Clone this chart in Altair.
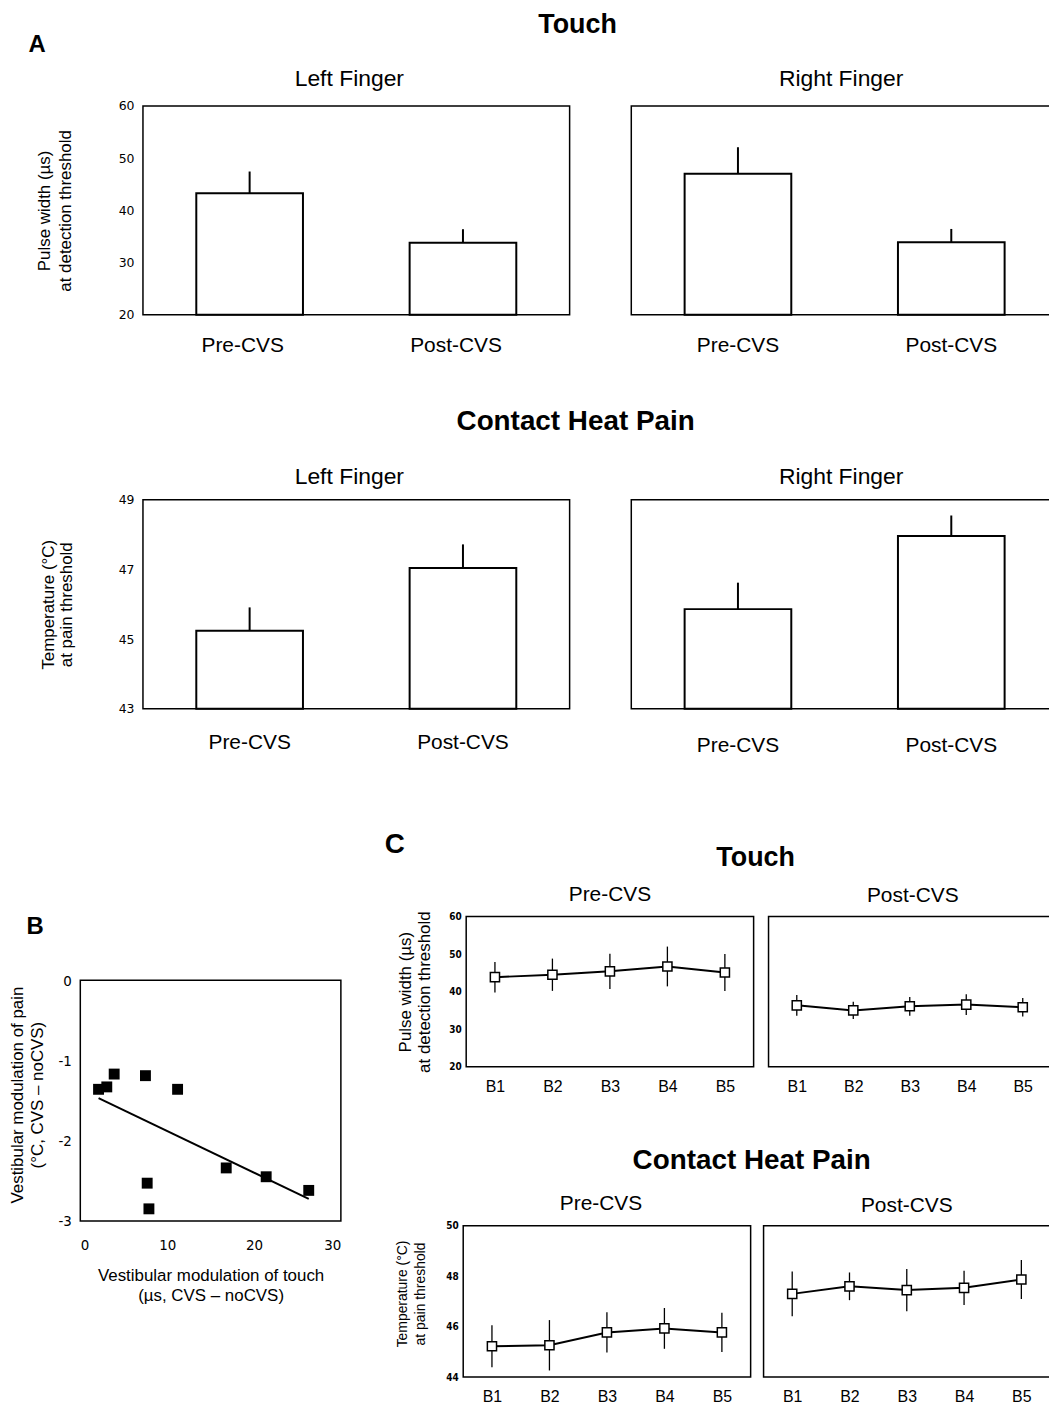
import altair as alt
import pandas as pd

FONT = "Liberation Sans, Arial, Helvetica, sans-serif"
NARROW = "Liberation Sans Narrow, DejaVu Sans Condensed, Arial Narrow, sans-serif"
TICKFONT = "DejaVu Sans, Verdana, sans-serif"

# ---------------- data ----------------
conditions = ["Pre-CVS", "Post-CVS"]
touch_left_mean = [43.3, 33.8]
touch_left_err = [4.15, 2.6]
touch_right_mean = [47.0, 33.9]
touch_right_err = [5.1, 2.55]
heat_left_mean = [45.24, 47.04]
heat_left_err = [0.67, 0.68]
heat_right_mean = [45.86, 47.96]
heat_right_err = [0.76, 0.59]

mod_touch = [2.1, 3.05, 3.9, 7.5, 11.2, 7.7, 7.9, 16.8, 21.4, 26.3]
mod_pain = [-1.36, -1.33, -1.17, -1.19, -1.36, -2.53, -2.85, -2.34, -2.45, -2.62]

blocks = ["B1", "B2", "B3", "B4", "B5"]
touch_pre_mean = [43.85, 44.5, 45.4, 46.7, 45.1]
touch_pre_err = [4.05, 4.3, 4.7, 5.3, 4.9]
touch_post_mean = [36.35, 35.0, 36.1, 36.55, 35.85]
touch_post_err = [2.75, 2.3, 2.5, 2.75, 2.45]
heat_pre_mean = [45.22, 45.26, 45.77, 45.93, 45.77]
heat_pre_err = [0.83, 1.0, 0.8, 0.81, 0.78]
heat_post_mean = [47.3, 47.6, 47.45, 47.54, 47.87]
heat_post_err = [0.89, 0.55, 0.84, 0.68, 0.77]

touch_ticks = [20, 30, 40, 50, 60]
heat_ticks_a = [43, 45, 47, 49]
heat_ticks_c = [44, 46, 48, 50]
mod_x_ticks = [0, 10, 20, 30]
mod_y_ticks = [-3, -2, -1, 0]

BOX = alt.ViewBackground(stroke="black", strokeWidth=1.5)


def ttl(text, size, offset, dx=0, anchor="middle", weight="normal"):
    return alt.TitleParams(text=text, fontSize=size, font=FONT, fontWeight=weight,
                           anchor=anchor, frame="group", offset=offset, dx=dx,
                           baseline="alphabetic", color="black")


def spacer(w, h, title=None):
    c = alt.Chart(pd.DataFrame({"v": []})).mark_point(opacity=0).properties(
        width=w, height=h, view=alt.ViewBackground(stroke="transparent"))
    if title is not None:
        c = c.properties(title=title)
    return c


def bar_panel(means, errs, domain, ticks, title, width, show_y, ytitle=None,
              ytx=0, ylh=20, xpad=22, xdx=0):
    df = pd.DataFrame({"cond": conditions, "mean": means,
                       "top": [m + e for m, e in zip(means, errs)]})
    xenc = alt.X("cond:N", sort=conditions, title=None,
                 scale=alt.Scale(range=[0, 429], paddingInner=0.5, paddingOuter=0.25),
                 axis=alt.Axis(labelFont=FONT, labelFontSize=21, labelColor="black",
                               labelPadding=xpad, labelAngle=0, ticks=False,
                               domain=False, labelOffset=xdx))
    if show_y:
        yaxis = alt.Axis(values=ticks, title=ytitle, labelFont=TICKFONT, labelFontSize=12.5,
                         labelColor="black", labelPadding=9, ticks=False, domain=False,
                         grid=False, titleFont=FONT, titleFontSize=17,
                         titleFontWeight="normal", titleColor="black",
                         titleLineHeight=ylh, titleX=ytx, titleAngle=270,
                         titleBaseline="bottom", titleAlign="center")
    else:
        yaxis = None
    ys = alt.Scale(domain=domain, nice=False, zero=False)
    base = alt.Chart(df)
    bars = base.mark_bar(fill="white", stroke="black", strokeWidth=2).encode(
        x=xenc, y=alt.Y("mean:Q", scale=ys, axis=yaxis), y2=alt.datum(domain[0]))
    err = base.mark_rule(color="black", strokeWidth=2).encode(
        x=xenc, y=alt.Y("mean:Q", scale=ys, axis=yaxis), y2="top:Q")
    return alt.layer(bars, err).properties(width=width, height=210, title=title, view=BOX)


def line_panel(means, errs, domain, ticks, title, width, height, show_y, ytitle=None,
               tfs=17, tx=0, ty=None, tlh=19, xpad=13):
    df = pd.DataFrame({"block": blocks, "mean": means,
                       "lo": [m - e for m, e in zip(means, errs)],
                       "hi": [m + e for m, e in zip(means, errs)]})
    xenc = alt.X("block:N", sort=blocks, title=None,
                 scale=alt.Scale(type="point", padding=0.5),
                 axis=alt.Axis(labelFont=FONT, labelFontSize=16, labelColor="black",
                               labelPadding=xpad, labelAngle=0, ticks=False, domain=False))
    if show_y:
        kw = dict(values=ticks, title=ytitle, labelFont=NARROW, labelFontSize=10,
                  labelFontWeight="bold", labelColor="black", labelPadding=5,
                  ticks=False, domain=False, grid=False, titleFont=FONT,
                  titleFontSize=tfs, titleFontWeight="normal", titleColor="black",
                  titleLineHeight=tlh, titleX=tx, titleAngle=270,
                  titleBaseline="bottom", titleAlign="center")
        if ty is not None:
            kw["titleY"] = ty
        yaxis = alt.Axis(**kw)
    else:
        yaxis = None
    ys = alt.Scale(domain=domain, nice=False, zero=False)
    base = alt.Chart(df)
    rules = base.mark_rule(color="black", strokeWidth=1.3).encode(
        x=xenc, y=alt.Y("lo:Q", scale=ys, axis=yaxis), y2="hi:Q")
    line = base.mark_line(color="black", strokeWidth=2).encode(
        x=xenc, y=alt.Y("mean:Q", scale=ys, axis=yaxis))
    pts = base.mark_point(shape="square", size=85, filled=True, fill="white",
                          stroke="black", strokeWidth=1.5, opacity=1).encode(
        x=xenc, y=alt.Y("mean:Q", scale=ys, axis=yaxis))
    return alt.layer(rules, line, pts).properties(width=width, height=height,
                                                  title=title, view=BOX)


# ---------------- panel A ----------------
touchL = bar_panel(touch_left_mean, touch_left_err, [20, 60], touch_ticks,
                   ttl("Left Finger", 23, -8.5, dx=-7), 429, True,
                   ["Pulse width (µs)", "at detection threshold"], ytx=-90, ylh=21,
                   xpad=19.5, xdx=-7)
touchR = bar_panel(touch_right_mean, touch_right_err, [20, 60], touch_ticks,
                   ttl("Right Finger", 23, -2.5), 422, False, xpad=19.5)
heatL = bar_panel(heat_left_mean, heat_left_err, [43, 49], heat_ticks_a,
                  ttl("Left Finger", 23, -13.5, dx=-7), 429, True,
                  ["Temperature (°C)", "at pain threshold"], ytx=-86, ylh=18.5,
                  xpad=23.5)
heatR = bar_panel(heat_right_mean, heat_right_err, [43, 49], heat_ticks_a,
                  ttl("Right Finger", 23, -7), 422, False, xpad=26)

row1 = alt.hconcat(
    spacer(63, 1, ttl("A", 24, 30.5, dx=-52, anchor="start", weight="bold")),
    touchL,
    spacer(62, 1, ttl("Touch", 27, 46.5, dx=-23, weight="bold")),
    touchR, spacing=0, bounds="flush")
row2 = alt.hconcat(
    spacer(63, 1),
    heatL,
    spacer(62, 1, ttl("Contact Heat Pain", 28, 42, dx=-25, weight="bold")),
    heatR, spacing=0, bounds="flush")

# ---------------- panel B ----------------
dfB = pd.DataFrame({"touch": mod_touch, "pain": mod_pain})
xB = alt.X("touch:Q", scale=alt.Scale(domain=[0, 30], nice=False, zero=False),
           axis=alt.Axis(values=mod_x_ticks, labelFont=NARROW, labelFontSize=15,
                         labelColor="black", labelPadding=16.5, ticks=False, domain=False,
                         grid=False,
                         title=["Vestibular modulation of touch", "(µs, CVS – noCVS)"],
                         titleFont=FONT, titleFontSize=17, titleFontWeight="normal",
                         titleColor="black", titleLineHeight=20, titleY=47,
                         titleBaseline="top"))
yB = alt.Y("pain:Q", scale=alt.Scale(domain=[-3, 0], nice=False, zero=False),
           axis=alt.Axis(values=mod_y_ticks, labelExpr="'' + datum.value",
                         labelFont=NARROW, labelFontSize=15, labelColor="black",
                         labelPadding=9, ticks=False, domain=False, grid=False,
                         title=["Vestibular modulation of pain", "(°C, CVS – noCVS)"],
                         titleFont=FONT, titleFontSize=17, titleFontWeight="normal",
                         titleColor="black", titleLineHeight=20, titleX=-53.8,
                         titleY=115, titleAngle=270, titleBaseline="bottom",
                         titleAlign="center"))
ptsB = alt.Chart(dfB).mark_square(size=120, color="black", opacity=1).encode(x=xB, y=yB)
fitB = alt.Chart(dfB).transform_regression("touch", "pain").mark_line(
    color="black", strokeWidth=2).encode(x=xB, y=yB)
panelB = alt.layer(fitB, ptsB).properties(
    width=262, height=242, view=BOX,
    title=ttl("B", 24, 15, dx=-54, anchor="start", weight="bold"))

# ---------------- panel C ----------------
ctPre = line_panel(touch_pre_mean, touch_pre_err, [20, 60], touch_ticks,
                   ttl("Pre-CVS", 21, -11), 289, 151, True,
                   ["Pulse width (µs)", "at detection threshold"], tfs=17, tx=-51.5,
                   tlh=18.5, xpad=12)
ctPost = line_panel(touch_post_mean, touch_post_err, [20, 60], touch_ticks,
                    ttl("Post-CVS", 21, -6.8, dx=3), 284, 151, False, xpad=12)
ccPre = line_panel(heat_pre_mean, heat_pre_err, [44, 50], heat_ticks_c,
                   ttl("Pre-CVS", 21, -9.8, dx=-6), 289, 152, True,
                   ["Temperature (°C)", "at pain threshold"], tfs=14, tx=-54,
                   ty=68, tlh=17.7, xpad=11.5)
ccPost = line_panel(heat_post_mean, heat_post_err, [44, 50], heat_ticks_c,
                    ttl("Post-CVS", 21, -7.4), 288, 152, False, xpad=11.5)

row3a = alt.hconcat(
    spacer(388, 1, ttl("C", 28, 36, dx=306, anchor="start", weight="bold")),
    ctPre,
    spacer(15, 1, ttl("Touch", 27, 24, dx=-5.5, weight="bold")),
    ctPost, spacing=0, bounds="flush")
row3b = alt.hconcat(
    spacer(385, 1),
    ccPre,
    spacer(13, 1, ttl("Contact Heat Pain", 28, 28.8, dx=-5.5, weight="bold")),
    ccPost, spacing=0, bounds="flush")

chart = alt.vconcat(
    row1, spacer(1, 396), row2, spacer(1, 419), row3a, spacer(1, 64), panelB,
    spacer(1, 5), row3b, spacing=0, bounds="flush"
).properties(
    padding={"left": -0.3, "top": -1.3, "right": -10, "bottom": -4},
    background="white"
).configure_view(
    stroke="black", strokeWidth=1.5
).configure_axis(
    grid=False
)

chart.save("out.html", embed_options={"renderer": "svg", "actions": False})
